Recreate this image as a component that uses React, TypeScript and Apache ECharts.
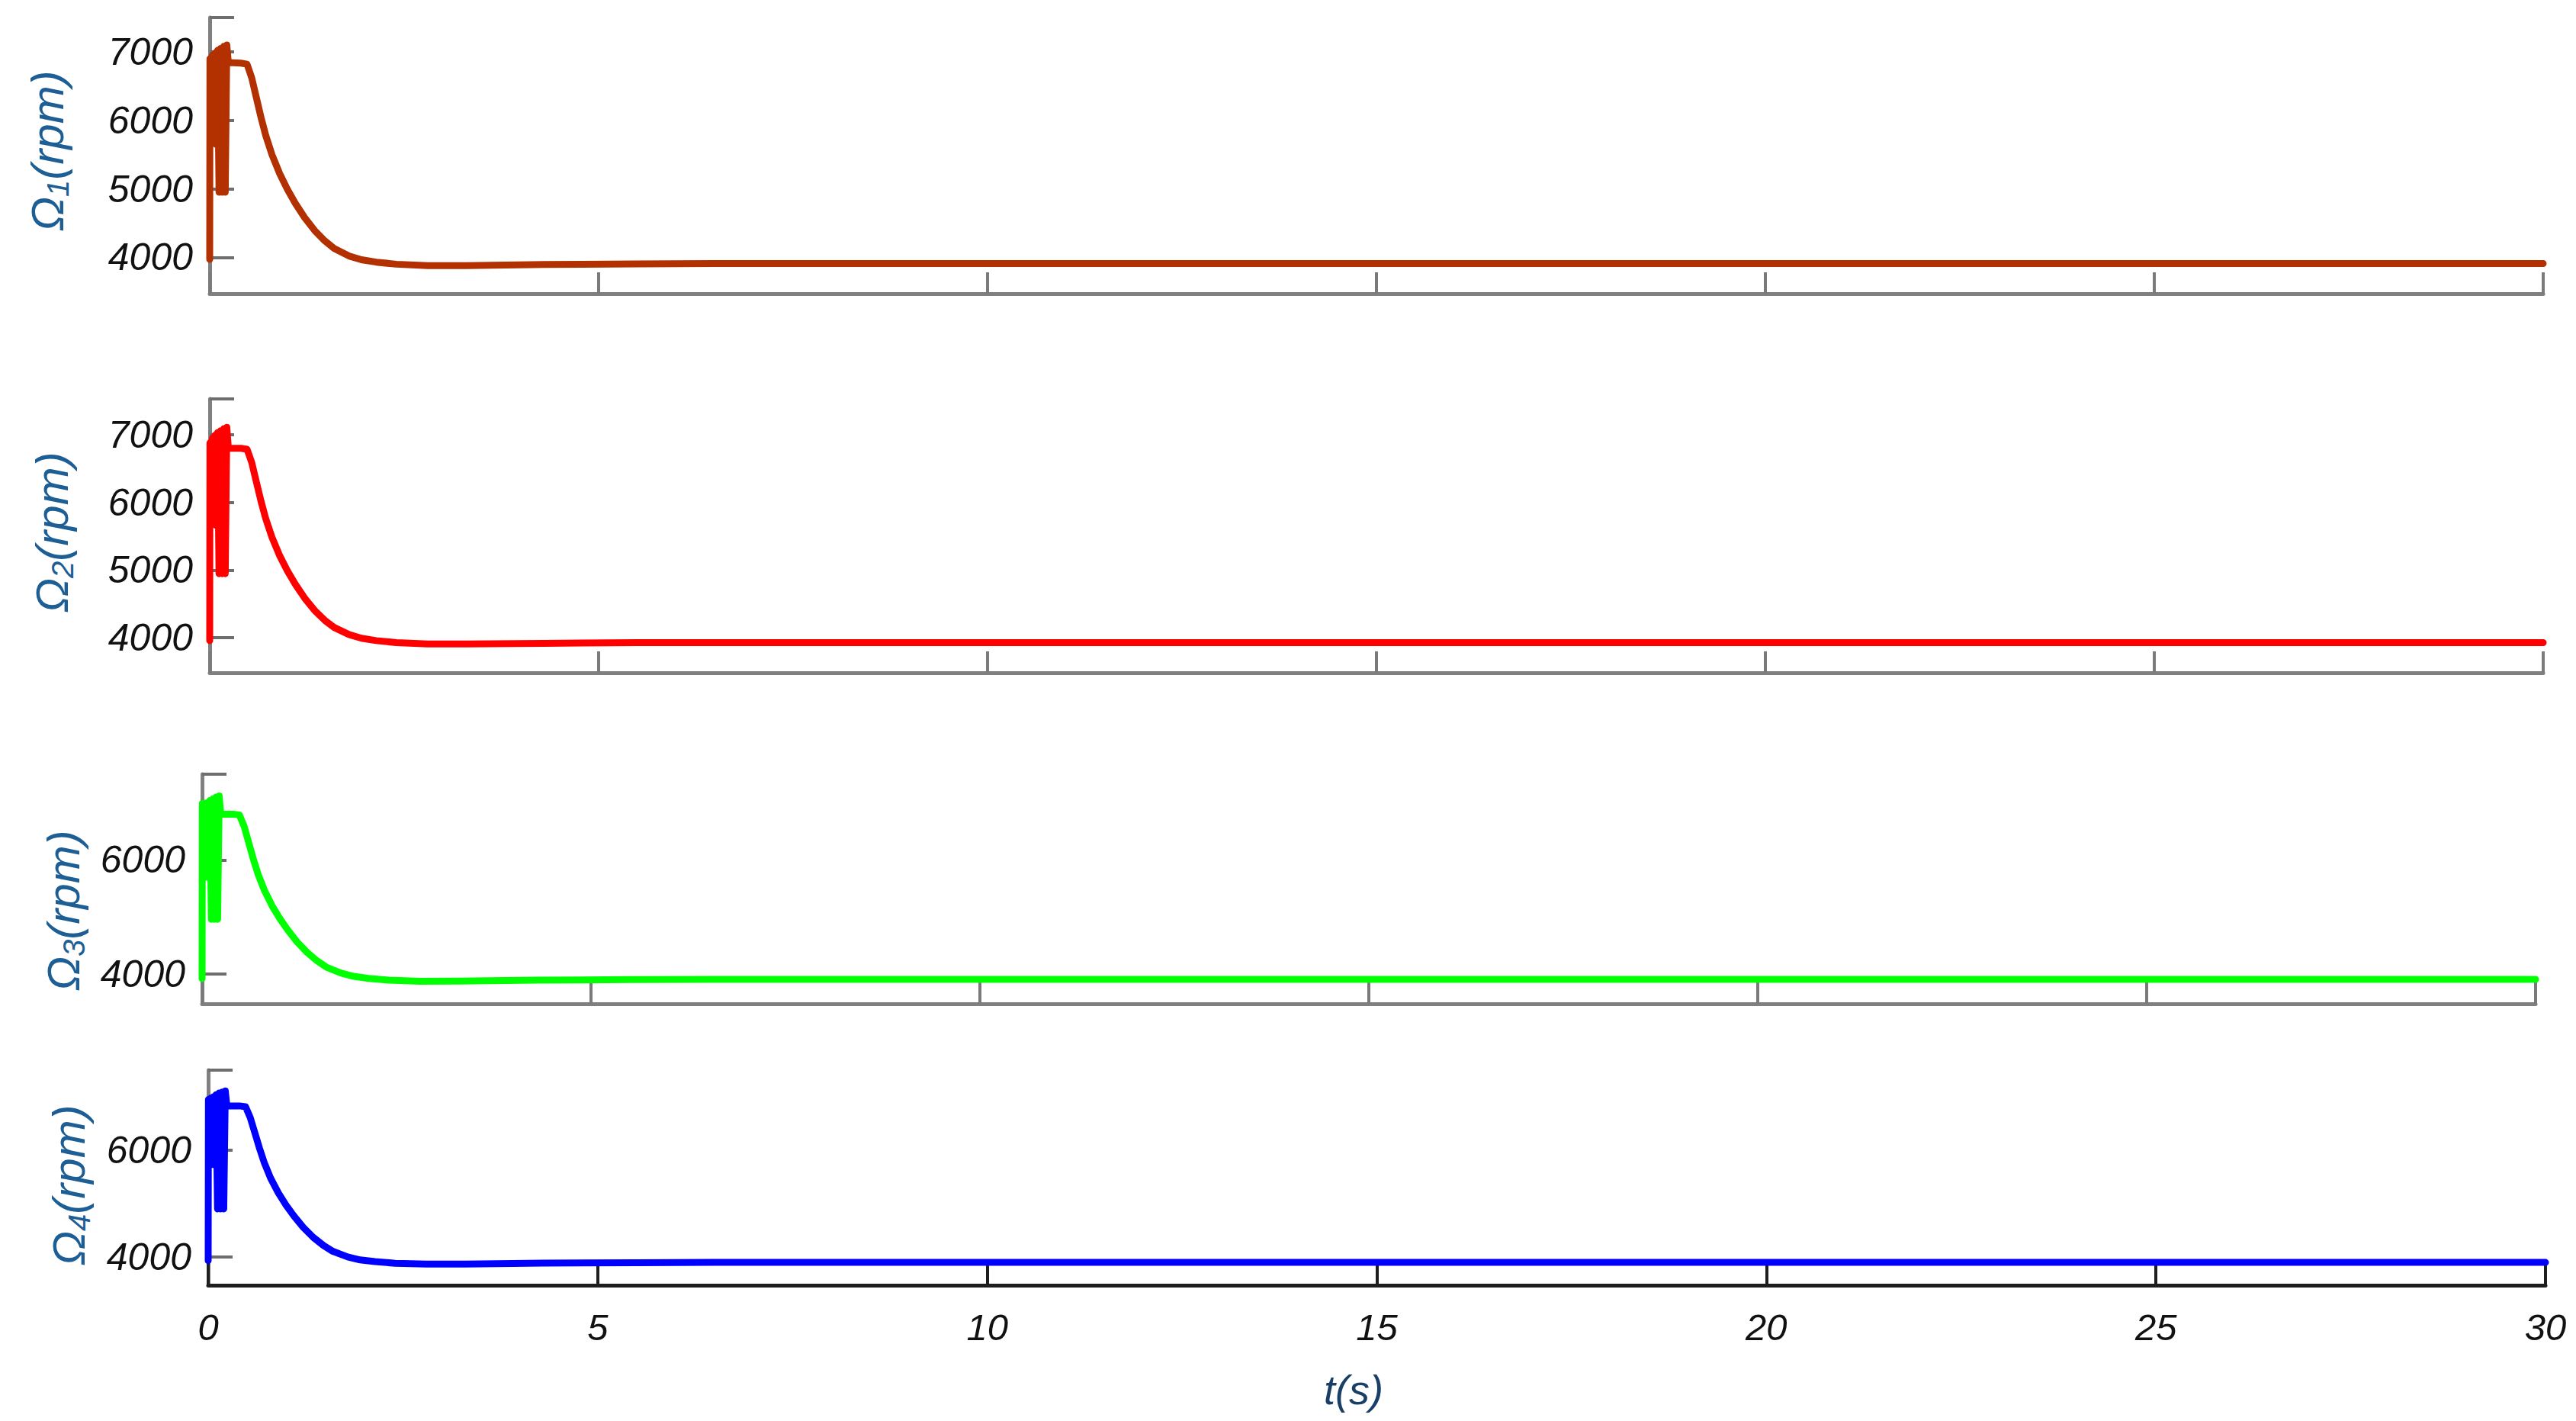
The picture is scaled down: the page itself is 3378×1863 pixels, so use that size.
import React, { useEffect, useRef } from "react";
import * as echarts from "echarts";

// time (s)
const time = [
  0, 0.003, 0.02, 0.035, 0.05, 0.065, 0.08, 0.1, 0.12, 0.14, 0.16, 0.18, 0.2, 0.22, 0.24,
  0.3, 0.4, 0.48, 0.54, 0.6, 0.66, 0.72, 0.8, 0.9, 1.0, 1.1, 1.22, 1.35, 1.48, 1.6, 1.79,
  1.95, 2.14, 2.4, 2.8, 3.3, 4.3, 5.5, 6.5, 8, 10, 15, 20, 25, 30,
];

const omega1 = [
  3970, 6900, 5750, 6950, 5700, 6980, 5650, 7020, 4950, 7050, 4950, 7080, 4950, 7100, 6840,
  6840, 6835, 6820, 6620, 6330, 6040, 5780, 5500, 5220, 4990, 4790, 4580, 4390, 4240, 4130, 4020,
  3965, 3930, 3900, 3880, 3880, 3895, 3905, 3910, 3910, 3910, 3910, 3910, 3910, 3910,
];

const omega2 = [
  3955, 6880, 5740, 6950, 5700, 6990, 5660, 7030, 4945, 7060, 4945, 7090, 4945, 7110, 6800,
  6800, 6800, 6785, 6590, 6300, 6015, 5760, 5485, 5210, 4985, 4790, 4585, 4400, 4255, 4150, 4045,
  3990, 3955, 3925, 3905, 3905, 3915, 3925, 3925, 3925, 3925, 3925, 3925, 3925, 3925,
];

const omega3 = [
  3920, 6990, 5690, 6990, 5700, 7000, 5690, 7040, 4960, 7070, 4960, 7100, 4960, 7120, 6800,
  6800, 6800, 6785, 6590, 6300, 6010, 5750, 5470, 5195, 4970, 4775, 4565, 4380, 4230, 4120, 4015,
  3960, 3925, 3895, 3875, 3878, 3893, 3903, 3907, 3907, 3907, 3907, 3907, 3907, 3907,
];

const omega4 = [
  3930, 6950, 5730, 6980, 5730, 7000, 5730, 7040, 4900, 7070, 4900, 7090, 4900, 7110, 6830,
  6830, 6830, 6815, 6610, 6320, 6030, 5765, 5480, 5200, 4970, 4770, 4555, 4365, 4215, 4105, 4000,
  3945, 3912, 3882, 3865, 3868, 3883, 3893, 3897, 3897, 3897, 3897, 3897, 3897, 3897,
];

const yMins = [3470, 3480, 3480, 3470];
const yMaxs = [7500, 7530, 7500, 7500];
const yLabelValues = [
  [4000, 5000, 6000, 7000],
  [4000, 5000, 6000, 7000],
  [4000, 6000],
  [4000, 6000],
];
const seriesColors = ["#B33000", "#FF0000", "#00FF00", "#0000FF"];
const yNames = ["1", "2", "3", "4"];
const xName = "t(s)";

const FONT = '"Liberation Sans", Arial, sans-serif';

export default function App() {
  const ref = useRef<HTMLDivElement | null>(null);

  useEffect(() => {
    if (!ref.current) return;
    const chart = echarts.init(ref.current, undefined, { renderer: "svg" });

    const grids = [
      { left: 275, top: 23, width: 3060, height: 362 },
      { left: 275, top: 523, width: 3060, height: 359 },
      { left: 265, top: 1015, width: 3060, height: 301 },
      { left: 273, top: 1403, width: 3065, height: 282 },
    ];
    const allSeries = [omega1, omega2, omega3, omega4];
    const nameCenters = [
      [62, 198],
      [68, 698],
      [83, 1194],
      [90, 1554],
    ];

    const xAxes = grids.map((_, i) => {
      const last = i === 3;
      const dark = last ? "#1e1e1e" : "#808080";
      return {
        type: "value",
        gridIndex: i,
        min: 0,
        max: 30,
        interval: 5,
        axisLine: { show: true, onZero: false, lineStyle: { color: dark, width: 5 } },
        axisTick: {
          show: true,
          inside: true,
          length: 28,
          lineStyle: { color: last ? "#1e1e1e" : "#7a7a7a", width: 4 },
        },
        splitLine: { show: false },
        axisLabel: {
          show: last,
          margin: 30,
          fontSize: 49,
          fontStyle: "italic",
          fontFamily: FONT,
          color: "#111111",
          showMinLabel: true,
          showMaxLabel: true,
          formatter: (v: number) => String(v),
        },
      };
    });

    const yAxes = grids.map((_, i) => ({
      type: "value",
      gridIndex: i,
      min: yMins[i],
      max: yMaxs[i],
      axisLine: { show: true, lineStyle: { color: "#808080", width: 5 } },
      axisTick: {
        show: true,
        inside: true,
        length: 32,
        customValues: [...yLabelValues[i], yMaxs[i]],
        lineStyle: { color: "#6e6e6e", width: 4 },
      },
      axisLabel: {
        show: true,
        customValues: yLabelValues[i],
        margin: 22,
        fontSize: 50,
        fontStyle: "italic",
        fontFamily: FONT,
        color: "#111111",
        formatter: (v: number) => String(v),
      },
      splitLine: { show: false },
    }));

    const series = allSeries.map((vals, i) => ({
      type: "line",
      xAxisIndex: i,
      yAxisIndex: i,
      showSymbol: false,
      symbol: "none",
      data: time.map((t, k) => [t, vals[k]]),
      lineStyle: { color: seriesColors[i], width: 9, join: "round", cap: "round" },
      itemStyle: { color: seriesColors[i] },
      clip: true,
    }));

    const labelColor = "#1d5e94";
    const graphics: any[] = yNames.map((n, i) => ({
      type: "text",
      x: nameCenters[i][0],
      y: nameCenters[i][1],
      rotation: Math.PI / 2,
      style: {
        text: `{a|Ω}{s|${n}}{a|(rpm)}`,
        align: "center",
        verticalAlign: "middle",
        fill: labelColor,
        rich: {
          a: {
            fontSize: 60,
            fontStyle: "italic",
            fontFamily: FONT,
            fill: labelColor,
            lineHeight: 68,
          },
          s: {
            fontSize: 40,
            fontStyle: "italic",
            fontFamily: FONT,
            fill: labelColor,
            lineHeight: 42,
            verticalAlign: "bottom",
          },
        },
      },
    }));
    graphics.push({
      type: "text",
      x: 1775,
      y: 1822,
      style: {
        text: xName,
        align: "center",
        verticalAlign: "middle",
        fontSize: 54,
        fontStyle: "italic",
        fontFamily: FONT,
        fill: "#1a3f66",
      },
    });

    chart.setOption({
      animation: false,
      backgroundColor: "#ffffff",
      grid: grids,
      xAxis: xAxes,
      yAxis: yAxes,
      series,
      graphic: graphics,
    });

    return () => {
      chart.dispose();
    };
  }, []);

  return (
    <div
      ref={ref}
      style={{ position: "fixed", left: 0, top: 0, width: 3378, height: 1863, background: "#fff" }}
    />
  );
}
